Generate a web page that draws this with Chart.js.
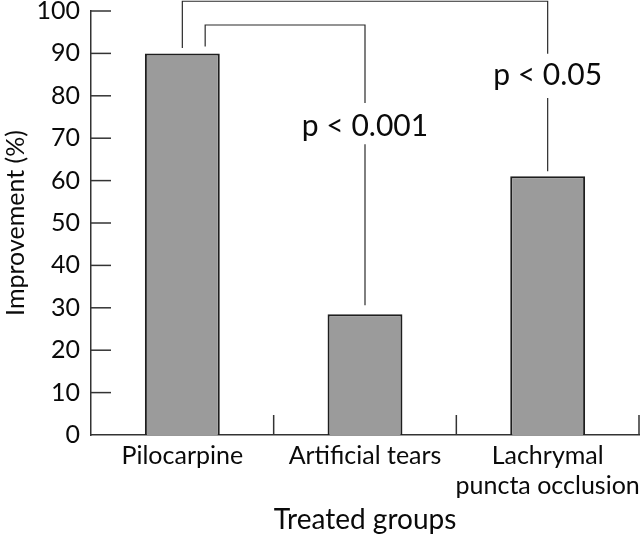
<!DOCTYPE html>
<html><head><meta charset="utf-8">
<script src="https://cdn.jsdelivr.net/npm/chart.js@4"></script>
<style>html,body{margin:0;padding:0;background:#fff}canvas{display:block}</style>
</head><body>
<canvas id="c" width="640" height="539"></canvas>
<script>
// ---- data ----
const categories = ['Pilocarpine', 'Artificial tears', ['Lachrymal', 'puncta occlusion']];
const improvement = [90, 28.5, 61];
const yMin = 0, yMax = 100, yStep = 10;
const yTitle = 'Improvement (%)';
const xTitle = 'Treated groups';
// significance annotations (category index, value)
const sigLabels = ['p < 0.001', 'p < 0.05'];
const sigLabelIndex = [1, 2];
const sigLabelValue = [72.9, 84.8];
const bracketInner = [[0.125, 91.6], [0.125, 96.7], [1, 96.7], [1, 78.3]];
const bracketInnerTail = [[1, 68.6], [1, 30.6]];
const bracketOuter = [[0, 91.3], [0, 102.3], [2, 102.3], [2, 89.9]];
const bracketOuterTail = [[2, 79.5], [2, 62.2]];

const FONT = 'Lato';
const INK = '#0a0a0a';

const overlay = {
  id: 'overlay',
  afterDraw(chart) {
    const ctx = chart.ctx, xs = chart.scales.x, ys = chart.scales.y;
    ctx.save();
    ctx.lineCap = 'butt';
    // inward ticks on y axis
    ctx.strokeStyle = '#333'; ctx.lineWidth = 1.5;
    ys.ticks.forEach((t) => {
      if (t.value === yMin) return;
      const py = ys.getPixelForValue(t.value);
      ctx.beginPath(); ctx.moveTo(xs.left, py); ctx.lineTo(xs.left + 20, py); ctx.stroke();
    });
    // upward boundary ticks on x axis
    for (let i = 0; i < categories.length; i++) {
      const px = xs.getPixelForValue(i + 0.5);
      ctx.beginPath(); ctx.moveTo(px, ys.bottom); ctx.lineTo(px, ys.bottom - 20); ctx.stroke();
    }
    // brackets
    ctx.strokeStyle = '#2a2a2a'; ctx.lineWidth = 1.2;
    const path = (pts) => {
      ctx.beginPath();
      pts.forEach((p, k) => {
        const px = xs.getPixelForValue(p[0]), py = ys.getPixelForValue(p[1]);
        if (k === 0) ctx.moveTo(px, py); else ctx.lineTo(px, py);
      });
      ctx.stroke();
    };
    [bracketInner, bracketInnerTail, bracketOuter, bracketOuterTail].forEach(path);
    // labels
    ctx.fillStyle = INK;
    ctx.font = '30px ' + FONT;
    ctx.textAlign = 'center'; ctx.textBaseline = 'middle';
    sigLabels.forEach((s, i) => {
      ctx.fillText(s, xs.getPixelForValue(sigLabelIndex[i]), ys.getPixelForValue(sigLabelValue[i]));
    });
    ctx.restore();
  }
};

new Chart(document.getElementById('c'), {
  type: 'bar',
  data: {
    labels: categories,
    datasets: [{
      data: improvement,
      backgroundColor: '#9b9b9b',
      borderColor: '#1e1e1e',
      borderWidth: 2,
      barPercentage: 0.41,
      categoryPercentage: 1
    }]
  },
  options: {
    responsive: false,
    animation: false,
    layout: { padding: { top: 11, right: 1, left: 0, bottom: 0 } },
    plugins: { legend: { display: false }, tooltip: { enabled: false } },
    scales: {
      x: {
        grid: { display: false, drawTicks: false },
        border: { color: '#333', width: 1.5 },
        ticks: { font: { family: FONT, size: 25 }, color: INK, padding: 6, maxRotation: 0, autoSkip: false },
        title: { display: true, text: xTitle, font: { family: FONT, size: 28 }, color: INK, padding: { top: 0, bottom: 2 } },
        afterFit(s) { s.height = 104; s.paddingLeft = 0; s.paddingRight = 0; }
      },
      y: {
        min: yMin, max: yMax,
        grid: { display: false, drawTicks: false },
        border: { color: '#333', width: 1.5 },
        ticks: { stepSize: yStep, font: { family: FONT, size: 25 }, color: INK, padding: 11 },
        title: { display: true, text: yTitle, font: { family: FONT, size: 25 }, color: INK, padding: { top: 1, bottom: 0 } },
        afterFit(s) { s.width = 91; s.paddingTop = 0; s.paddingBottom = 0; }
      }
    }
  },
  plugins: [overlay]
});
</script>
</body></html>
